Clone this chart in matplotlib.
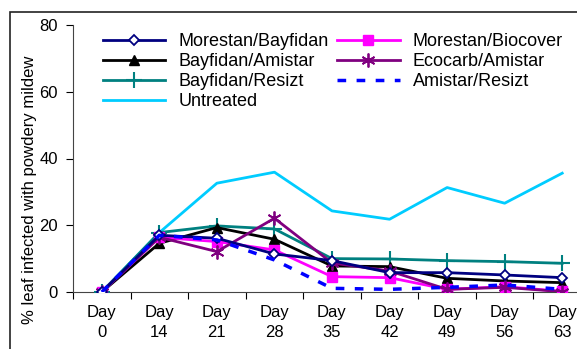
import matplotlib
matplotlib.use("Agg")
import matplotlib.pyplot as plt
from matplotlib.patches import Rectangle
import numpy as np

plt.rcParams['font.family'] = ['Liberation Sans', 'DejaVu Sans']

days = ["Day\n0", "Day\n14", "Day\n21", "Day\n28", "Day\n35", "Day\n42", "Day\n49", "Day\n56", "Day\n63"]

morestan_bayfidan = [0, 17.0, 16.1, 11.4, 9.4, 5.8, 5.8, 5.1, 4.3]
morestan_biocover = [0, 16.4, 15.1, 12.6, 4.6, 4.3, 0.8, 1.6, 0.2]
bayfidan_amistar = [0, 14.6, 19.3, 15.8, 7.8, 7.6, 4.1, 3.3, 2.8]
ecocarb_amistar = [0, 16.4, 12.1, 22.1, 8.7, 6.3, 0.8, 1.4, 0.1]
bayfidan_resizt = [0, 17.8, 19.8, 18.9, 10.0, 9.9, 9.4, 9.1, 8.6]
amistar_resizt = [0, 17.0, 15.6, 9.6, 1.1, 0.8, 1.4, 2.1, 0.8]
untreated = [0, 17.8, 32.6, 35.9, 24.3, 21.8, 31.3, 26.6, 35.6]

W, H = 577, 349
fig = plt.figure(figsize=(W/100, H/100), dpi=100)
ax = fig.add_axes([73/W, 1-292/H, 518/W, 267/H])

x = np.arange(len(days))
lw = 2.0
ax.plot(x, morestan_bayfidan, color='#000080', lw=lw, marker='D', ms=5.5,
        mfc='white', mec='#000080', mew=1.3, label='Morestan/Bayfidan', zorder=5)
ax.plot(x, bayfidan_amistar, color='black', lw=lw, marker='^', ms=7,
        label='Bayfidan/Amistar', zorder=4)
ax.plot(x, bayfidan_resizt, color='#008080', lw=lw, marker='+', ms=12, mew=1.5,
        label='Bayfidan/Resizt', zorder=3)
ax.plot(x, untreated, color='#00CCFF', lw=lw, label='Untreated', zorder=2)
ax.plot(x, morestan_biocover, color='#FF00FF', lw=lw, marker='s', ms=6.5,
        label='Morestan/Biocover', zorder=4)
ax.plot(x, ecocarb_amistar, color='#800080', lw=lw, marker=(6, 2, 0), ms=10, mew=1.3,
        label='Ecocarb/Amistar', zorder=4)
ax.plot(x, amistar_resizt, color='#0000FF', lw=2.5, ls=(0, (2.5, 3)),
        label='Amistar/Resizt', zorder=6)

ax.set_xlim(-0.5, len(days) - 0.5)
ax.set_ylim(0, 80)
ax.set_yticks([0, 20, 40, 60, 80])
ax.set_xticks(x)
ax.set_xticklabels(days, fontsize=12, linespacing=1.45)
ax.tick_params(axis='x', length=0, pad=9)
ax.set_xticks(np.arange(-0.5, len(days) + 0.5, 1), minor=True)
ax.tick_params(axis='x', which='minor', length=5, direction='out', width=0.8)
ax.tick_params(axis='y', labelsize=12, length=5, width=0.8, pad=6)

for s in ['top', 'right']:
    ax.spines[s].set_visible(False)
ax.spines['left'].set_color('#444444')
ax.spines['bottom'].set_color('#444444')

ax.set_ylabel('% leaf infected with powdery mildew', fontsize=12)
ax.yaxis.set_label_coords((37 - 73) / 518, (292 - 190) / 267)

leg = ax.legend(ncol=2, loc='upper left', bbox_to_anchor=(0.058, 0.9705), frameon=False,
                fontsize=13, handlelength=3.44, handletextpad=0.72, columnspacing=0.5,
                labelspacing=0.17, numpoints=1, borderaxespad=0, borderpad=0)

fig.patches.append(Rectangle((10/W, -0.1), 1.2, 1.1 - 12/H, transform=fig.transFigure,
                             fill=False, edgecolor='#222222', lw=1.2))

fig.savefig('out.png', dpi=100)
